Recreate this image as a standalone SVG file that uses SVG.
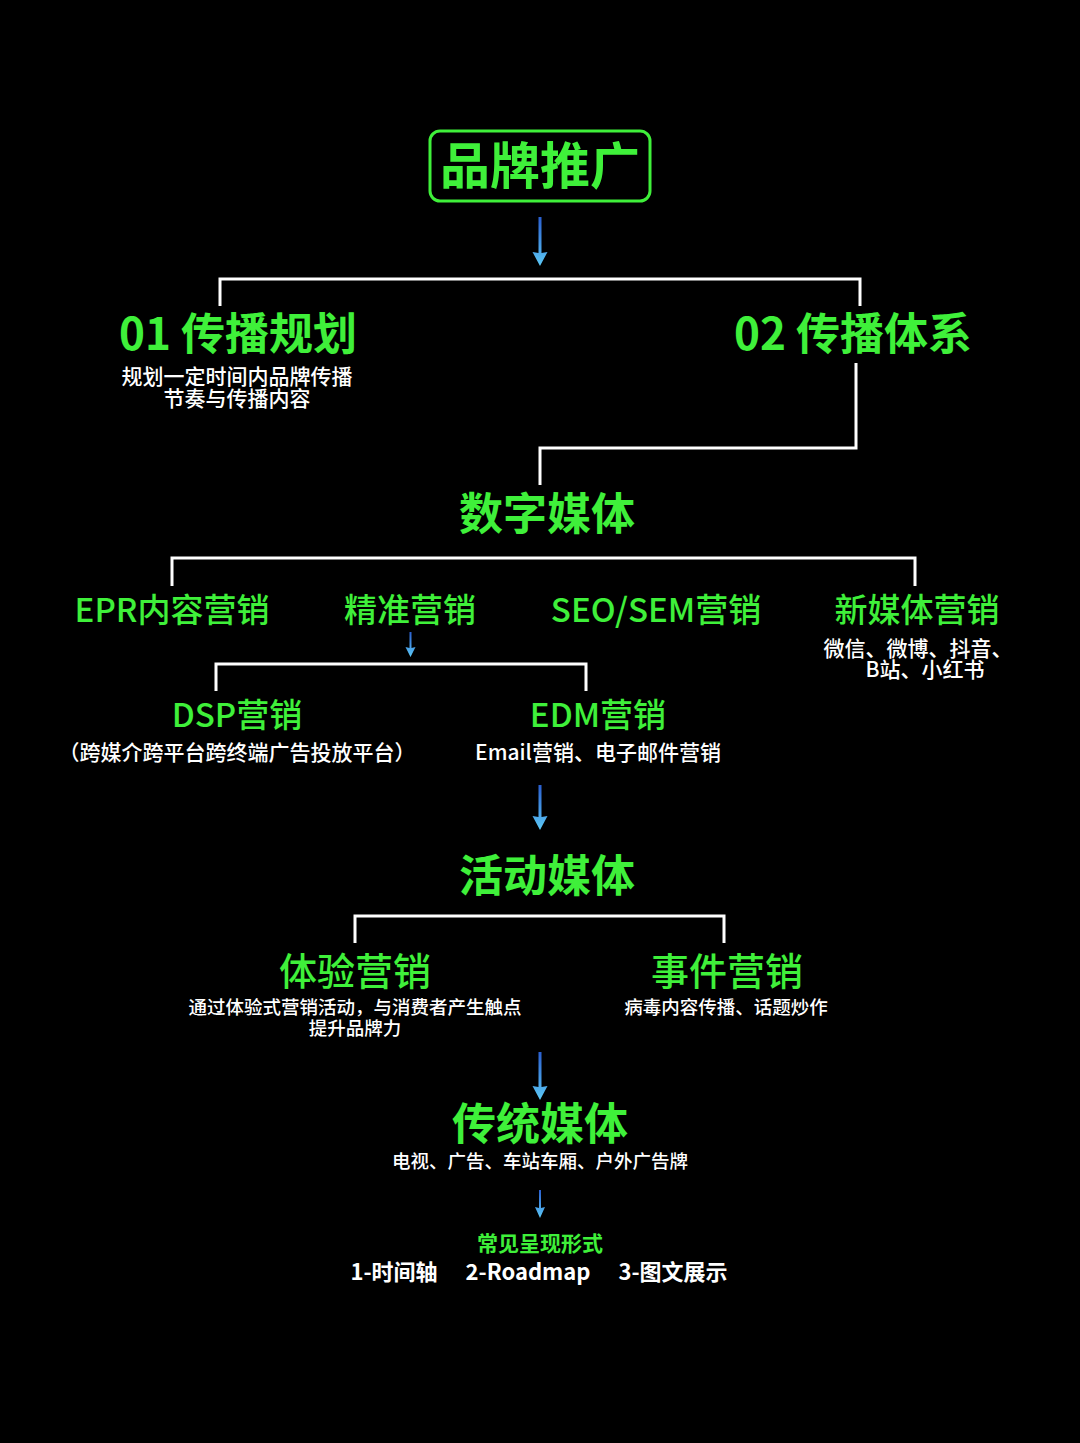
<svg xmlns="http://www.w3.org/2000/svg" width="1080" height="1443" viewBox="0 0 1080 1443">
<defs>
<linearGradient id="ag" x1="0" y1="0" x2="0" y2="1"><stop offset="0" stop-color="#2a5fd0"/><stop offset="1" stop-color="#5cc8f5"/></linearGradient>
<style>
text{font-family:"Noto Sans CJK SC","Noto Sans",sans-serif;text-anchor:middle}
.g{fill:#3ff03a}
.w{fill:#fff}
.h{font-size:44px;font-weight:700}
.m{font-size:33px;font-weight:500}
.s{font-size:21px;font-weight:500}
.t{font-size:18.5px;font-weight:500}
.ln{fill:none;stroke:#fff;stroke-width:3}
</style>
</defs>
<rect width="1080" height="1443" fill="#000"/>
<g id="connectors">
<path class="ln" d="M220 306V279H860V306"/>
<path class="ln" d="M856 363V448H540V485"/>
<path class="ln" d="M172 586V558H915V586"/>
<path class="ln" d="M216 691V664H586V691"/>
<path class="ln" d="M355 943V916H724V943"/>
<path d="M538.5 217h3v36l6-1-7.5 14-7.5-14 6 1z" fill="url(#ag)"/>
<path d="M538.5 785h3v32l6-1-7.5 14-7.5-14 6 1z" fill="url(#ag)"/>
<path d="M538.5 1052h3v35l6-1-7.5 14-7.5-14 6 1z" fill="url(#ag)"/>
<path d="M409.5 632h2v16l4-1-5 10-5-10 4 1z" fill="url(#ag)"/>
<path d="M539 1190h2v18l4-1-5 11-5-11 4 1z" fill="url(#ag)"/>
</g>
<g id="root"><rect x="430" y="131" width="220" height="70" rx="10" fill="none" stroke="#3ff03a" stroke-width="3"/><text x="540" y="184" class="g" font-size="50" font-weight="700">品牌推广</text></g>
<g id="n01"><text x="238" y="350" class="g h">01 传播规划</text><text x="237" y="384" class="w s" font-size="22">规划一定时间内品牌传播</text><text x="237" y="406" class="w s" font-size="22">节奏与传播内容</text></g>
<g id="n02"><text x="853" y="350" class="g h">02 传播体系</text></g>
<g id="digital"><text x="547" y="530" class="g h">数字媒体</text></g>
<g id="epr"><text x="172" y="622" class="g m">EPR内容营销</text></g>
<g id="precise"><text x="410" y="622" class="g m">精准营销</text></g>
<g id="seo"><text x="656" y="622" class="g m">SEO/SEM营销</text></g>
<g id="newmedia"><text x="917" y="622" class="g m">新媒体营销</text><text x="918" y="656" class="w s">微信、微博、抖音、</text><text x="925" y="677" class="w s">B站、小红书</text></g>
<g id="dsp"><text x="237" y="727" class="g m">DSP营销</text><text x="237" y="760" class="w s" font-size="23">（跨媒介跨平台跨终端广告投放平台）</text></g>
<g id="edm"><text x="598" y="727" class="g m">EDM营销</text><text x="598" y="760" class="w s" font-size="23">Email营销、电子邮件营销</text></g>
<g id="activity"><text x="547" y="892" class="g h">活动媒体</text></g>
<g id="exp"><text x="355" y="985" class="g" font-size="38" font-weight="500">体验营销</text><text x="355" y="1014" class="w t">通过体验式营销活动，与消费者产生触点</text><text x="355" y="1035" class="w t">提升品牌力</text></g>
<g id="event"><text x="727" y="985" class="g" font-size="38" font-weight="500">事件营销</text><text x="726" y="1014" class="w t">病毒内容传播、话题炒作</text></g>
<g id="trad"><text x="540" y="1140" class="g h">传统媒体</text><text x="540" y="1168" class="w t">电视、广告、车站车厢、户外广告牌</text></g>
<g id="forms"><text x="540" y="1251" class="g" font-size="21" font-weight="700">常见呈现形式</text><text x="394" y="1280" class="w" font-size="22" font-weight="700">1-时间轴</text><text x="528" y="1280" class="w" font-size="22" font-weight="700">2-Roadmap</text><text x="673" y="1280" class="w" font-size="22" font-weight="700">3-图文展示</text></g>
</svg>
